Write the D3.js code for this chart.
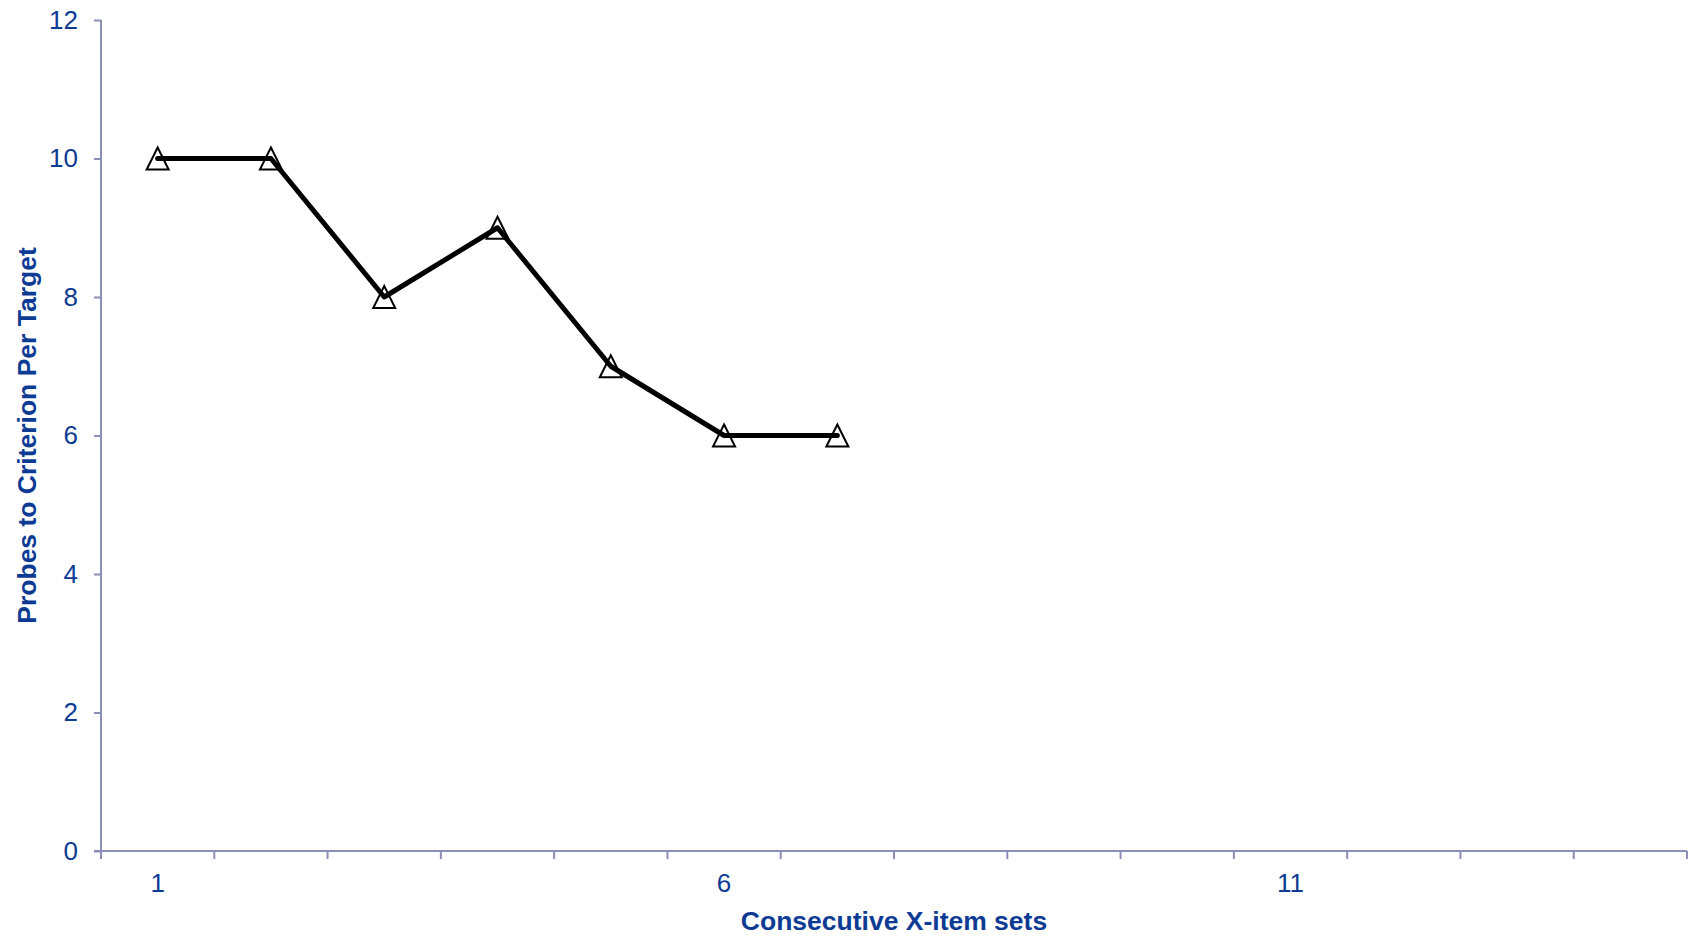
<!DOCTYPE html>
<html>
<head>
<meta charset="utf-8">
<script src="https://cdn.jsdelivr.net/npm/d3@7"></script>
<style>
  html, body { margin: 0; padding: 0; background: #fff; }
  svg { display: block; }
  text { font-family: "Liberation Sans", Arial, sans-serif; }
</style>
</head>
<body>
<svg id="chart" width="1696" height="936"></svg>
<script>
// Data
const categories = [1, 2, 3, 4, 5, 6, 7, 8, 9, 10, 11, 12, 13, 14];
const seriesValues = [10, 10, 8, 9, 7, 6, 6];
const xTickLabels = [1, 6, 11];
const yTicks = [0, 2, 4, 6, 8, 10, 12];
const xTitle = "Consecutive X-item sets";
const yTitle = "Probes to Criterion Per Target";

const textColor = "#0d3b94";
const axisColor = "#8a8fb8";

const margin = { left: 101, right: 9, top: 20, bottom: 85 };
const W = 1696, H = 936;
const svg = d3.select("#chart");

const x = d3.scaleBand()
  .domain(categories)
  .range([margin.left, W - margin.right])
  .paddingInner(0).paddingOuter(0);

const y = d3.scaleLinear()
  .domain([0, 12])
  .range([H - margin.bottom, margin.top]);

// Y axis
const yAxis = svg.append("g")
  .attr("transform", `translate(${margin.left},0)`)
  .call(d3.axisLeft(y).tickValues(yTicks).tickSize(7).tickPadding(16).tickFormat(d3.format("d")));
yAxis.select(".domain").attr("stroke", axisColor).attr("stroke-width", 2)
  .attr("d", `M0,${y(12)}V${y(0)}`);
yAxis.selectAll(".tick line").attr("stroke", axisColor).attr("stroke-width", 2);
yAxis.selectAll(".tick text").attr("fill", textColor).style("font-size", "26px")
  .style("font-family", '"Liberation Sans", Arial, sans-serif');

// X axis: ticks at category boundaries, labels at category centers
const xAxisG = svg.append("g")
  .attr("transform", `translate(0,${y(0)})`);
xAxisG.append("line")
  .attr("x1", margin.left - 7).attr("x2", W - margin.right)
  .attr("y1", 0).attr("y2", 0)
  .attr("stroke", axisColor).attr("stroke-width", 2);
const boundaries = categories.map(c => x(c)).concat([x(categories[categories.length - 1]) + x.bandwidth()]);
xAxisG.selectAll("line.tk").data(boundaries).enter().append("line")
  .attr("class", "tk")
  .attr("x1", d => d).attr("x2", d => d)
  .attr("y1", 0).attr("y2", 8)
  .attr("stroke", axisColor).attr("stroke-width", 2);
xAxisG.selectAll("text.lbl").data(xTickLabels).enter().append("text")
  .attr("class", "lbl")
  .attr("x", d => x(d) + x.bandwidth() / 2)
  .attr("y", 41)
  .attr("text-anchor", "middle")
  .attr("fill", textColor)
  .style("font-size", "26px")
  .text(d => d);

// Titles
svg.append("text")
  .attr("x", (margin.left + W - margin.right) / 2)
  .attr("y", 930)
  .attr("text-anchor", "middle")
  .attr("fill", textColor)
  .style("font-size", "26.5px").style("font-weight", "bold")
  .text(xTitle);

svg.append("text")
  .attr("transform", `translate(36,${(y(0) + y(12)) / 2}) rotate(-90)`)
  .attr("text-anchor", "middle")
  .attr("fill", textColor)
  .style("font-size", "26.5px").style("font-weight", "bold")
  .text(yTitle);

// Series
const pts = seriesValues.map((v, i) => ({ cx: x(categories[i]) + x.bandwidth() / 2, cy: y(v) }));

// Triangle marker: box-centred on the point
const triType = {
  draw(ctx, size) {
    const h = Math.sqrt(size);
    const w = h;
    ctx.moveTo(0, -h / 2);
    ctx.lineTo(w / 2, h / 2);
    ctx.lineTo(-w / 2, h / 2);
    ctx.closePath();
  }
};
const tri = d3.symbol().type(triType).size(22 * 22);
svg.append("g").selectAll("path").data(pts).enter().append("path")
  .attr("d", tri)
  .attr("transform", d => `translate(${d.cx},${d.cy})`)
  .attr("fill", "#fff")
  .attr("stroke", "#000")
  .attr("stroke-width", 2);

const line = d3.line().x(d => d.cx).y(d => d.cy);
svg.append("path")
  .datum(pts)
  .attr("d", line)
  .attr("fill", "none")
  .attr("stroke", "#000")
  .attr("stroke-width", 5)
  .attr("stroke-linejoin", "round")
  .attr("stroke-linecap", "round");
</script>
</body>
</html>
